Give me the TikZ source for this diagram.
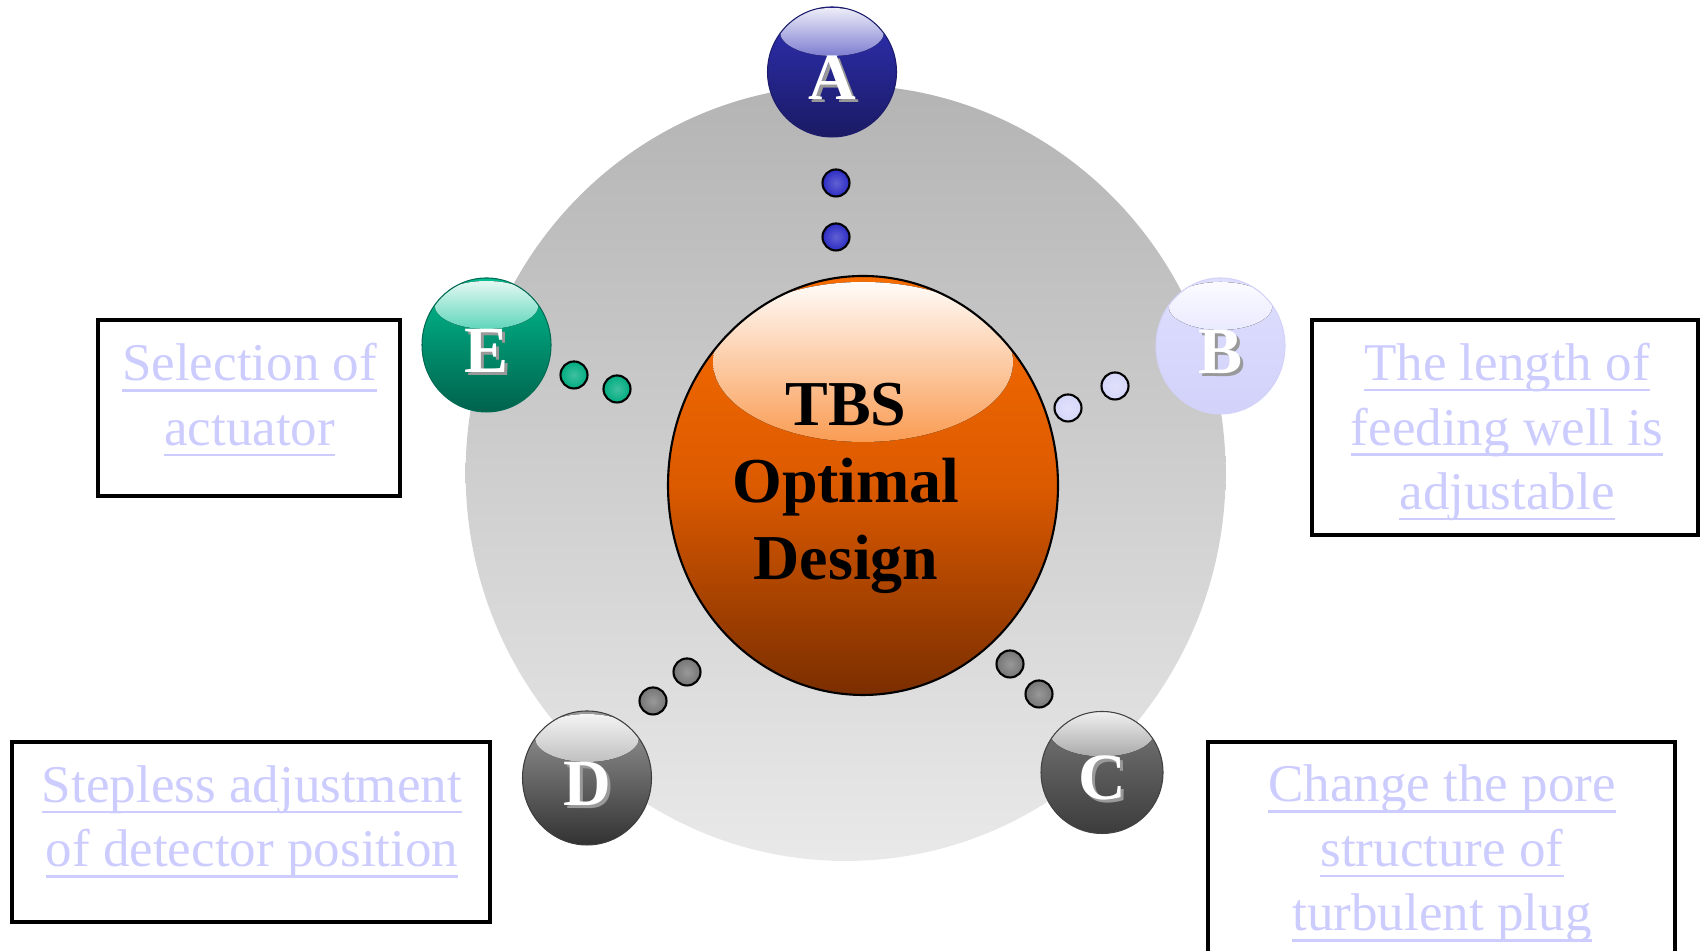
\documentclass[tikz,border=0pt]{standalone}
\usepackage{fontspec}
\setmainfont{Liberation Serif}
\usetikzlibrary{positioning,shapes.geometric}

\definecolor{discTop}{RGB}{180,180,180}
\definecolor{discBot}{RGB}{233,233,233}
\definecolor{coreTop}{RGB}{247,108,0}
\definecolor{coreMid}{RGB}{220,90,0}
\definecolor{coreBot}{RGB}{122,46,0}
\definecolor{ballA}{RGB}{48,48,182}
\definecolor{ballAdk}{RGB}{26,26,100}
\definecolor{ballB}{RGB}{222,222,255}
\definecolor{ballBdk}{RGB}{210,210,250}
\definecolor{ballC}{RGB}{120,120,120}
\definecolor{ballCdk}{RGB}{60,60,60}
\definecolor{ballD}{RGB}{155,155,155}
\definecolor{ballDdk}{RGB}{50,50,50}
\definecolor{ballE}{RGB}{0,190,145}
\definecolor{ballEdk}{RGB}{0,98,76}
\definecolor{dotA}{RGB}{44,44,196}
\definecolor{dotB}{RGB}{214,214,250}
\definecolor{dotG}{RGB}{118,118,118}
\definecolor{dotE}{RGB}{0,172,128}
\definecolor{linkblue}{RGB}{204,204,255}

\newsavebox{\ulbox}
\newcommand{\uln}[1]{\sbox{\ulbox}{#1}\rlap{\rule[-3.1pt]{\wd\ulbox}{0.7pt}}\usebox{\ulbox}}
\newcommand{\shadeletter}[1]{\makebox[0pt][l]{\hspace{0.9pt}\raisebox{-0.9pt}{\color{black!40}#1}}{\color{white}#1}}

\tikzset{
  disc/.style={ellipse, inner sep=0pt, minimum width=7.60cm, minimum height=7.76cm,
    top color=discTop, bottom color=discBot},
  core/.style={ellipse, draw=black, line width=0.6pt, inner sep=0pt,
    minimum width=3.90cm, minimum height=4.19cm,
    top color=coreTop, bottom color=coreBot, middle color=coreMid,
    path picture={\fill[top color=white, bottom color=coreTop, middle color=coreTop!85!white]
      ([yshift=1.235cm]path picture bounding box.center) ellipse (1.50cm and 0.80cm);}},
  title/.style={align=center, font=\bfseries\fontsize{18.2}{21.8}\selectfont},
  ball/.style={ellipse, inner sep=0pt, minimum width=1.29cm, minimum height=1.34cm,
    top color=#1, bottom color=#1dk, draw=#1dk!90!#1, line width=0.3pt,
    text height=15.4pt, text depth=0pt,
    font=\bfseries\fontsize{18.8}{20}\selectfont,
    path picture={\fill[top color=#1!8!white, bottom color=#1, middle color=#1!80!white]
      ([yshift=0.40cm]path picture bounding box.center) ellipse (0.52cm and 0.24cm);}},
  dot/.style={circle, draw=black, line width=0.6pt, inner sep=0pt, minimum size=0.27cm,
    inner color=#1!75!white, outer color=#1},
  infobox/.style={draw=black, line width=1.2pt, inner sep=0pt},
  infotext/.style={text=linkblue, align=center, font=\fontsize{15.1}{18.35}\selectfont}
}

\begin{document}
\begin{tikzpicture}
\useasboundingbox (0,0) rectangle (17,9.51);
\clip (0,0) rectangle (17,9.51);

\node[disc] (disc) at (8.456,4.78) {};
\node[core] (core) at (8.63,4.655) {};
\node[title] (title) at (8.46,4.625) {TBS\\Optimal\\Design};

\node[dot=dotA] (dotA1) at (8.36,7.68) {};
\node[dot=dotA] (dotA2) at (8.36,7.14) {};
\node[dot=dotB] (dotB1) at (11.15,5.65) {};
\node[dot=dotB] (dotB2) at (10.68,5.43) {};
\node[dot=dotG] (dotC1) at (10.10,2.87) {};
\node[dot=dotG] (dotC2) at (10.39,2.57) {};
\node[dot=dotG] (dotD1) at (6.87,2.79) {};
\node[dot=dotG] (dotD2) at (6.53,2.50) {};
\node[dot=dotE] (dotE1) at (5.74,5.76) {};
\node[dot=dotE] (dotE2) at (6.17,5.62) {};

\node[ball=ballA, minimum height=1.30cm] (ballA) at (8.32,8.79) {\shadeletter{A}};
\node[ball=ballB, minimum height=1.36cm] (ballB) at (12.205,6.05) {\shadeletter{B}};
\node[ball=ballC, minimum width=1.22cm, minimum height=1.22cm] (ballC) at (11.02,1.785) {\shadeletter{C}};
\node[ball=ballD] (ballD) at (5.87,1.73) {\shadeletter{D}};
\node[ball=ballE] (ballE) at (4.865,6.06) {\shadeletter{E}};

\node[infobox, minimum width=3.02cm, minimum height=1.76cm] (boxE) at (2.49,5.43) {};
\node[infobox, minimum width=3.86cm, minimum height=2.15cm] (boxB) at (15.05,5.235) {};
\node[infobox, minimum width=4.78cm, minimum height=1.80cm] (boxD) at (2.51,1.19) {};
\node[infobox, minimum width=4.67cm, minimum height=2.18cm] (boxC) at (14.415,1.00) {};

\node[infotext] (txtE) at (2.496,5.51) {\uln{Selection of}\\\uln{actuator}};
\node[infotext] (txtB) at (15.07,5.19) {\uln{The length of}\\\uln{feeding well is}\\\uln{adjustable}};
\node[infotext] (txtD) at (2.52,1.29) {\uln{Stepless adjustment}\\\uln{of detector position}};
\node[infotext] (txtC) at (14.42,0.975) {\uln{Change the pore}\\\uln{structure of}\\\uln{turbulent plug}};
\end{tikzpicture}
\end{document}
